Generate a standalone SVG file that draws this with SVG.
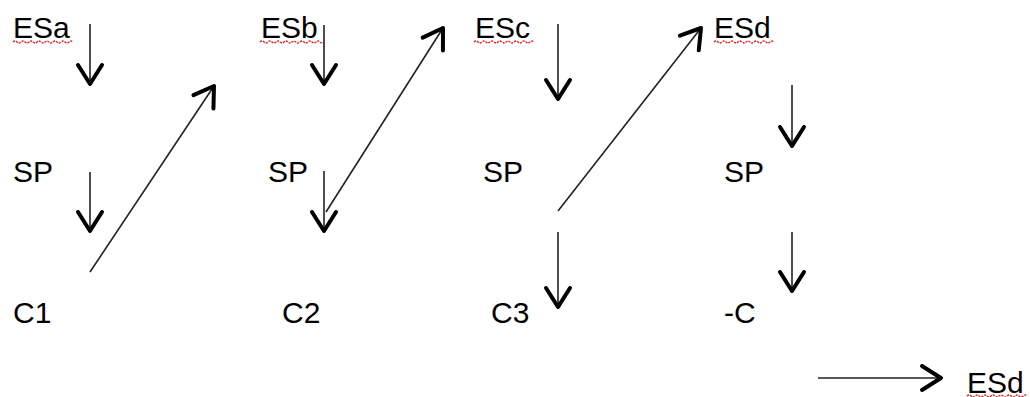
<svg xmlns="http://www.w3.org/2000/svg" width="1030" height="397" viewBox="0 0 1030 397">
<style>
text{font-family:"Liberation Sans",Arial,sans-serif;font-size:30px;fill:#000}
.c{stroke:#222;stroke-width:1.6;fill:none}
.sq{stroke:#e02020;stroke-width:1.3;fill:none;stroke-dasharray:2.2 1}
</style>
<defs>
<marker id="ah" markerUnits="userSpaceOnUse" orient="auto" markerWidth="30" markerHeight="30" refX="0" refY="0" viewBox="-24 -15 28 30" overflow="visible">
<path d="M-19,-12 L0,0 L-19,12" fill="none" stroke="#000" stroke-width="4" stroke-linecap="round" stroke-linejoin="round"/>
</marker>
</defs>
<rect width="1030" height="397" fill="#fff"/>
<g id="ESa"><text x="13" y="38">ESa</text><path class="sq" d="M13,42 q2,-2 4,0 t4,0 t4,0 t4,0 t4,0 t4,0 t4,0 t4,0 t4,0 t4,0 t4,0 t4,0 t4,0 t4,0 t4,0"/></g>
<g id="ESb"><text x="261" y="38">ESb</text><path class="sq" d="M260,42 q2,-2 4,0 t4,0 t4,0 t4,0 t4,0 t4,0 t4,0 t4,0 t4,0 t4,0 t4,0 t4,0 t4,0 t4,0 t4,0 t4,0"/></g>
<g id="ESc"><text x="475" y="38">ESc</text><path class="sq" d="M474,42 q2,-2 4,0 t4,0 t4,0 t4,0 t4,0 t4,0 t4,0 t4,0 t4,0 t4,0 t4,0 t4,0 t4,0 t4,0 t4,0"/></g>
<g id="ESd"><text x="714" y="38">ESd</text><path class="sq" d="M714,42 q2,-2 4,0 t4,0 t4,0 t4,0 t4,0 t4,0 t4,0 t4,0 t4,0 t4,0 t4,0 t4,0 t4,0 t4,0 t4,0"/></g>
<g id="SP1"><text x="13" y="182">SP</text></g>
<g id="SP2"><text x="268" y="182">SP</text></g>
<g id="SP3"><text x="483" y="182">SP</text></g>
<g id="SP4"><text x="724" y="182">SP</text></g>
<g id="C1"><text x="13" y="323">C1</text></g>
<g id="C2"><text x="282" y="323">C2</text></g>
<g id="C3"><text x="491" y="323">C3</text></g>
<g id="negC"><text x="724" y="323">-C</text></g>
<g id="ESd2"><text x="967" y="393">ESd</text><path class="sq" d="M967,396 q2,-2 4,0 t4,0 t4,0 t4,0 t4,0 t4,0 t4,0 t4,0 t4,0 t4,0 t4,0 t4,0 t4,0 t4,0 t4,0"/></g>
<g id="connectors">
<line class="c" x1="90" y1="24" x2="90" y2="84" marker-end="url(#ah)"/>
<line class="c" x1="90" y1="172" x2="90" y2="231" marker-end="url(#ah)"/>
<line class="c" x1="90" y1="272" x2="214" y2="86" marker-end="url(#ah)"/>
<line class="c" x1="324" y1="25" x2="324" y2="84" marker-end="url(#ah)"/>
<line class="c" x1="324" y1="171" x2="324" y2="231" marker-end="url(#ah)"/>
<line class="c" x1="326" y1="212" x2="443" y2="28" marker-end="url(#ah)"/>
<line class="c" x1="558" y1="24" x2="558" y2="99" marker-end="url(#ah)"/>
<line class="c" x1="558" y1="211" x2="701" y2="28" marker-end="url(#ah)"/>
<line class="c" x1="558" y1="232" x2="558" y2="307" marker-end="url(#ah)"/>
<line class="c" x1="792" y1="85" x2="792" y2="146" marker-end="url(#ah)"/>
<line class="c" x1="792" y1="232" x2="792" y2="291" marker-end="url(#ah)"/>
<line class="c" x1="818" y1="378" x2="941" y2="378" marker-end="url(#ah)"/>
</g>
</svg>
